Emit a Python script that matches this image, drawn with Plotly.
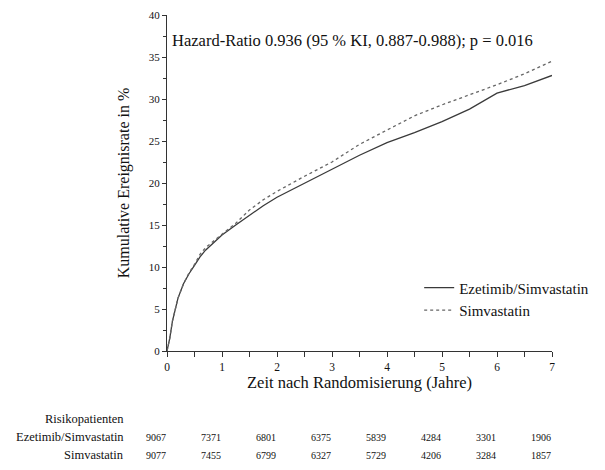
import plotly.graph_objects as go

# --- data ---
years = [0, 0.05, 0.1, 0.2, 0.3, 0.4, 0.5, 0.6, 0.7, 0.8, 1.0, 1.25, 1.5, 1.75, 2.0,
         2.5, 3.0, 3.5, 4.0, 4.5, 5.0, 5.5, 6.0, 6.5, 7.0]
ezetimib = [0, 1.5, 3.6, 6.3, 8.0, 9.2, 10.2, 11.2, 12.0, 12.6, 13.8, 15.0, 16.2, 17.3, 18.3,
            20.0, 21.6, 23.3, 24.8, 26.0, 27.3, 28.8, 30.7, 31.6, 32.8]
simvastatin = [0, 1.5, 3.6, 6.3, 8.0, 9.3, 10.3, 11.5, 12.3, 12.8, 13.9, 15.2, 16.8, 18.0, 19.0,
               20.8, 22.5, 24.6, 26.3, 28.0, 29.3, 30.5, 31.7, 33.0, 34.5]

risk_years = [0, 1, 2, 3, 4, 5, 6, 7]
risk_ezetimib = [9067, 7371, 6801, 6375, 5839, 4284, 3301, 1906]
risk_simvastatin = [9077, 7455, 6799, 6327, 5729, 4206, 3284, 1857]

name_eze = "Ezetimib/Simvastatin"
name_sim = "Simvastatin"
hr_text = "Hazard-Ratio 0.936 (95 % KI, 0.887-0.988); p = 0.016"

FONT = "Liberation Serif"

fig = go.Figure()
fig.add_trace(go.Scatter(x=years, y=ezetimib, mode="lines", name=name_eze,
                         line=dict(color="#3a3a3a", width=1.3, dash="solid")))
fig.add_trace(go.Scatter(x=years, y=simvastatin, mode="lines", name=name_sim,
                         line=dict(color="#666666", width=1.3, dash="dot")))

# reference plot-area geometry (window pixels) used to place the risk table
REF_X0, REF_X1, REF_Y0, REF_Y1 = 167, 552, 351, 15


def px_to_paper_x(px):
    return (px - REF_X0) / (REF_X1 - REF_X0)


def py_to_paper_y(py):
    return (REF_Y0 - py) / (REF_Y0 - REF_Y1)


annotations = [
    dict(x=0.05, y=37.0, xref="x", yref="y", text=hr_text, showarrow=False,
         xanchor="left", yanchor="middle", font=dict(size=16.5, color="#111", family=FONT)),
]

label_font = dict(size=12.5, color="#111", family=FONT)
annotations.append(dict(x=px_to_paper_x(126), y=py_to_paper_y(419), xref="paper", yref="paper",
                        text="Risikopatienten", showarrow=False, xanchor="right", yanchor="middle",
                        font=label_font))
annotations.append(dict(x=px_to_paper_x(126), y=py_to_paper_y(437), xref="paper", yref="paper",
                        text=name_eze, showarrow=False, xanchor="right", yanchor="middle",
                        font=label_font))
annotations.append(dict(x=px_to_paper_x(126), y=py_to_paper_y(455), xref="paper", yref="paper",
                        text=name_sim, showarrow=False, xanchor="right", yanchor="middle",
                        font=label_font))
num_font = dict(size=10, color="#111", family=FONT)
for yr, a, b in zip(risk_years, risk_ezetimib, risk_simvastatin):
    annotations.append(dict(x=yr, xshift=-11, y=py_to_paper_y(437), xref="x", yref="paper",
                            text=str(a), showarrow=False, xanchor="center", yanchor="middle",
                            font=num_font))
    annotations.append(dict(x=yr, xshift=-11, y=py_to_paper_y(455), xref="x", yref="paper",
                            text=str(b), showarrow=False, xanchor="center", yanchor="middle",
                            font=num_font))

# page body has an 8px margin, so the figure is offset by (8, 8) in the window
fig.update_layout(
    width=589, height=454,
    margin=dict(l=REF_X0 - 8, r=589 - (REF_X1 - 8), t=REF_Y1 - 8, b=454 - (REF_Y0 - 8),
                autoexpand=False),
    paper_bgcolor="white", plot_bgcolor="white",
    font=dict(family=FONT, color="#111"),
    showlegend=True,
    legend=dict(x=0.655, y=0.155, xanchor="left", yanchor="middle", bgcolor="rgba(0,0,0,0)",
                font=dict(size=15, family=FONT, color="#111"), itemwidth=30,
                tracegroupgap=0),
    annotations=annotations,
    xaxis=dict(range=[0, 7], tickmode="array", tickvals=[0, 1, 2, 3, 4, 5, 6, 7],
               ticks="outside", ticklen=5, tickwidth=1, tickcolor="#333",
               showline=True, linecolor="#333", linewidth=1.2, showgrid=False, zeroline=False,
               tickfont=dict(size=11.5, family=FONT),
               minor=dict(tickvals=[0.5, 1.5, 2.5, 3.5, 4.5, 5.5, 6.5], ticks="outside",
                          ticklen=5, tickcolor="#333", showgrid=False),
               title=dict(text="Zeit nach Randomisierung (Jahre)", font=dict(size=16.5, family=FONT),
                          standoff=4)),
    yaxis=dict(range=[0, 40], tickmode="array", tickvals=[0, 5, 10, 15, 20, 25, 30, 35, 40],
               ticks="outside", ticklen=4, tickwidth=1, tickcolor="#333",
               showline=True, linecolor="#333", linewidth=1.2, showgrid=False, zeroline=False,
               tickfont=dict(size=11, family=FONT),
               minor=dict(tickvals=[2.5, 7.5, 12.5, 17.5, 22.5, 27.5, 32.5, 37.5], ticks="outside",
                          ticklen=3, tickcolor="#333", showgrid=False),
               title=dict(text="Kumulative Ereignisrate in %", font=dict(size=16, family=FONT),
                          standoff=15)),
)

fig.write_html("out.html")
